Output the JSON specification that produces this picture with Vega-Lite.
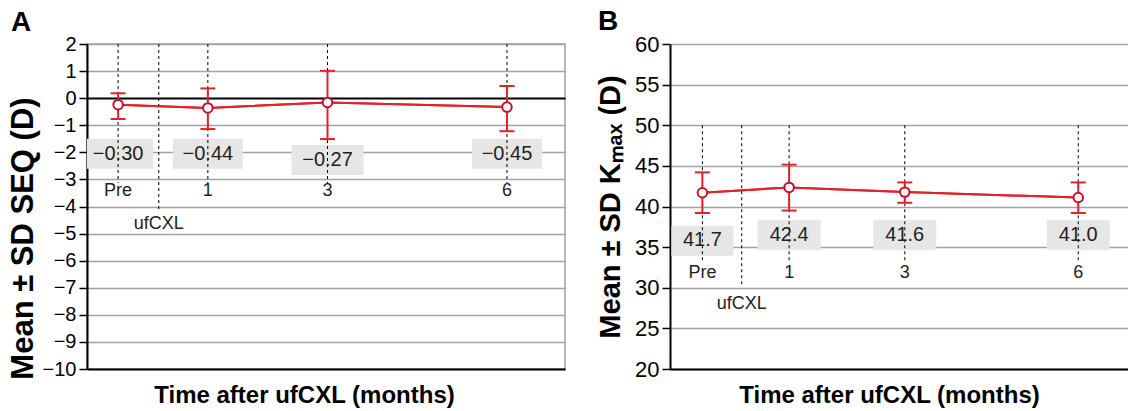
{
  "$schema": "https://vega.github.io/schema/vega-lite/v6.json",
  "padding": {"left": 6, "top": 8, "right": 0, "bottom": 0},
  "spacing": 30,
  "config": {
    "font": "Liberation Sans",
    "view": {"stroke": null},
    "text": {"color": "#231f20"}
  },
  "datasets": {
    "a": [
      {"t": "Pre", "m": -0.5, "mean": -0.24, "lo": -0.77, "hi": 0.18, "lab": "−0.30"},
      {"t": "1", "m": 1, "mean": -0.36, "lo": -1.14, "hi": 0.36, "lab": "−0.44"},
      {"t": "3", "m": 3, "mean": -0.16, "lo": -1.51, "hi": 1.01, "lab": "−0.27"},
      {"t": "6", "m": 6, "mean": -0.33, "lo": -1.22, "hi": 0.45, "lab": "−0.45"}
    ],
    "b": [
      {"t": "Pre", "m": -0.5, "mean": 41.7, "lo": 39.2, "hi": 44.2, "lab": "41.7"},
      {"t": "1", "m": 1, "mean": 42.35, "lo": 39.5, "hi": 45.15, "lab": "42.4"},
      {"t": "3", "m": 3, "mean": 41.77, "lo": 40.46, "hi": 42.96, "lab": "41.6"},
      {"t": "6", "m": 6, "mean": 41.1, "lo": 39.2, "hi": 42.96, "lab": "41.0"}
    ],
    "cxl": [{"t": "ufCXL", "m": 0.18}]
  },
  "hconcat": [
    {
      "width": 478,
      "height": 325,
      "view": {"stroke": "#a3a3a3", "strokeWidth": 1.5},
      "title": {"text": "A", "anchor": "start", "frame": "group", "fontSize": 28, "fontWeight": "bold", "dx": -76, "offset": -3, "color": "#000"},
      "data": {"name": "a"},
      "resolve": {"axis": {"y": "independent"}},
      "encoding": {
        "x": {"field": "m", "type": "quantitative", "scale": {"domain": [-1.02, 6.97], "nice": false, "zero": false},
          "axis": {"title": "Time after ufCXL (months)", "labels": false, "ticks": false, "grid": false, "domainColor": "#000", "domainWidth": 2, "titleFontSize": 24, "titleFontWeight": "bold", "titleColor": "#000", "titlePadding": 14, "titleX": 217}}
      },
      "layer": [
        {"mark": {"type": "line", "color": "#e0222a", "strokeWidth": 2},
          "encoding": {"y": {"field": "mean", "type": "quantitative", "scale": {"domain": [-10, 2], "nice": false, "zero": false},
            "axis": {"values": [-10, -9, -8, -7, -6, -5, -4, -3, -2, -1, 0, 1, 2], "title": "Mean ± SD SEQ (D)",
              "grid": true,
              "gridColor": {"condition": {"test": "datum.value === 0", "value": "#000000"}, "value": "#a3a3a3"},
              "gridWidth": {"condition": {"test": "datum.value === 0", "value": 2}, "value": 1.5},
              "domainColor": "#000", "domainWidth": 2, "tickColor": "#000", "tickSize": 8, "tickWidth": 1.5,
              "labelFontSize": 20, "labelPadding": 3, "labelColor": "#000", "labelOverlap": false,
              "titleFontSize": 31, "titleFontWeight": "bold", "titleColor": "#000", "titlePadding": 3, "titleY": 194}}}},
        {"transform": [{"filter": "datum.t !== '3'"}], "mark": {"type": "tick", "orient": "horizontal", "size": 70, "thickness": 30, "color": "#e6e6e6", "opacity": 1, "clip": true},
          "encoding": {"y": {"datum": -2.05, "axis": null}}},
        {"transform": [{"filter": "datum.t === '3'"}], "mark": {"type": "tick", "orient": "horizontal", "size": 72, "thickness": 30, "color": "#e6e6e6", "opacity": 1},
          "encoding": {"y": {"datum": -2.28, "axis": null}}},
        {"mark": {"type": "rule", "color": "#000", "strokeWidth": 1, "strokeDash": [3, 3]},
          "encoding": {"y": {"datum": 2, "axis": null}, "y2": {"datum": -3.13}}},
        {"data": {"name": "cxl"}, "mark": {"type": "rule", "color": "#000", "strokeWidth": 1, "strokeDash": [3, 3]},
          "encoding": {"y": {"datum": 2, "axis": null}, "y2": {"datum": -4.17}}},
        {"mark": {"type": "line", "color": "#e0222a", "strokeWidth": 2},
          "encoding": {"y": {"field": "mean", "type": "quantitative", "axis": null}}},
        {"mark": {"type": "rule", "color": "#e0222a", "strokeWidth": 2},
          "encoding": {"y": {"field": "lo", "type": "quantitative", "axis": null}, "y2": {"field": "hi"}}},
        {"mark": {"type": "tick", "orient": "horizontal", "size": 15, "thickness": 2, "color": "#e0222a", "opacity": 1},
          "encoding": {"y": {"field": "lo", "type": "quantitative", "axis": null}}},
        {"mark": {"type": "tick", "orient": "horizontal", "size": 15, "thickness": 2, "color": "#e0222a", "opacity": 1},
          "encoding": {"y": {"field": "hi", "type": "quantitative", "axis": null}}},
        {"mark": {"type": "point", "filled": true, "fill": "#ffffff", "stroke": "#c8102e", "strokeWidth": 2, "size": 90, "opacity": 1},
          "encoding": {"y": {"field": "mean", "type": "quantitative", "axis": null}}},
        {"transform": [{"filter": "datum.t !== '3'"}], "mark": {"type": "text", "fontSize": 20, "baseline": "middle"},
          "encoding": {"y": {"datum": -2.05, "axis": null}, "text": {"field": "lab"}}},
        {"transform": [{"filter": "datum.t === '3'"}], "mark": {"type": "text", "fontSize": 20, "baseline": "middle"},
          "encoding": {"y": {"datum": -2.28, "axis": null}, "text": {"field": "lab"}}},
        {"mark": {"type": "text", "fontSize": 18, "baseline": "middle"},
          "encoding": {"y": {"datum": -3.43, "axis": null}, "text": {"field": "t"}}},
        {"data": {"name": "cxl"}, "mark": {"type": "text", "fontSize": 18, "baseline": "middle"},
          "encoding": {"y": {"datum": -4.65, "axis": null}, "text": {"field": "t"}}}
      ]
    },
    {
      "width": 458,
      "height": 325,
      "title": {"text": "B", "anchor": "start", "frame": "group", "fontSize": 28, "fontWeight": "bold", "dx": -72, "offset": -3, "color": "#000"},
      "data": {"name": "b"},
      "resolve": {"axis": {"y": "independent"}},
      "encoding": {
        "x": {"field": "m", "type": "quantitative", "scale": {"domain": [-1.06, 6.86], "nice": false, "zero": false},
          "axis": {"title": "Time after ufCXL (months)", "labels": false, "ticks": false, "grid": false, "domainColor": "#000", "domainWidth": 2, "titleFontSize": 24, "titleFontWeight": "bold", "titleColor": "#000", "titlePadding": 14, "titleX": 219}}
      },
      "layer": [
        {"mark": {"type": "line", "color": "#e0222a", "strokeWidth": 2},
          "encoding": {"y": {"field": "mean", "type": "quantitative", "scale": {"domain": [20, 60], "nice": false, "zero": false},
            "axis": {"values": [20, 25, 30, 35, 40, 45, 50, 55, 60], "title": "Mean ± SD Kₘₐₓ (D)",
              "grid": true, "gridColor": "#a3a3a3", "gridWidth": 1.5,
              "domainColor": "#000", "domainWidth": 2, "tickColor": "#000", "tickSize": 8, "tickWidth": 1.5,
              "labelFontSize": 22, "labelPadding": 3, "labelColor": "#000", "labelOverlap": false,
              "titleFontSize": 29, "titleFontWeight": "bold", "titleColor": "#000", "titlePadding": 9}}}},
        {"transform": [{"filter": "datum.t !== 'Pre'"}], "mark": {"type": "tick", "orient": "horizontal", "size": 63, "thickness": 30, "color": "#e6e6e6", "opacity": 1},
          "encoding": {"y": {"datum": 36.45, "axis": null}}},
        {"transform": [{"filter": "datum.t === 'Pre'"}], "mark": {"type": "tick", "orient": "horizontal", "size": 62, "thickness": 30, "color": "#e6e6e6", "opacity": 1, "clip": true},
          "encoding": {"y": {"datum": 35.8, "axis": null}}},
        {"mark": {"type": "rule", "color": "#000", "strokeWidth": 1, "strokeDash": [3, 3]},
          "encoding": {"y": {"datum": 50, "axis": null}, "y2": {"datum": 33.1}}},
        {"data": {"name": "cxl"}, "mark": {"type": "rule", "color": "#000", "strokeWidth": 1, "strokeDash": [3, 3]},
          "encoding": {"y": {"datum": 50, "axis": null}, "y2": {"datum": 30.1}}},
        {"mark": {"type": "line", "color": "#e0222a", "strokeWidth": 2},
          "encoding": {"y": {"field": "mean", "type": "quantitative", "axis": null}}},
        {"mark": {"type": "rule", "color": "#e0222a", "strokeWidth": 2},
          "encoding": {"y": {"field": "lo", "type": "quantitative", "axis": null}, "y2": {"field": "hi"}}},
        {"mark": {"type": "tick", "orient": "horizontal", "size": 15, "thickness": 2, "color": "#e0222a", "opacity": 1},
          "encoding": {"y": {"field": "lo", "type": "quantitative", "axis": null}}},
        {"mark": {"type": "tick", "orient": "horizontal", "size": 15, "thickness": 2, "color": "#e0222a", "opacity": 1},
          "encoding": {"y": {"field": "hi", "type": "quantitative", "axis": null}}},
        {"mark": {"type": "point", "filled": true, "fill": "#ffffff", "stroke": "#c8102e", "strokeWidth": 2, "size": 90, "opacity": 1},
          "encoding": {"y": {"field": "mean", "type": "quantitative", "axis": null}}},
        {"transform": [{"filter": "datum.t !== 'Pre'"}], "mark": {"type": "text", "fontSize": 20, "baseline": "middle"},
          "encoding": {"y": {"datum": 36.45, "axis": null}, "text": {"field": "lab"}}},
        {"transform": [{"filter": "datum.t === 'Pre'"}], "mark": {"type": "text", "fontSize": 20, "baseline": "middle"},
          "encoding": {"y": {"datum": 35.9, "axis": null}, "text": {"field": "lab"}}},
        {"mark": {"type": "text", "fontSize": 18, "baseline": "middle"},
          "encoding": {"y": {"datum": 31.8, "axis": null}, "text": {"field": "t"}}},
        {"data": {"name": "cxl"}, "mark": {"type": "text", "fontSize": 18, "baseline": "middle"},
          "encoding": {"y": {"datum": 28.0, "axis": null}, "text": {"field": "t"}}}
      ]
    }
  ]
}
